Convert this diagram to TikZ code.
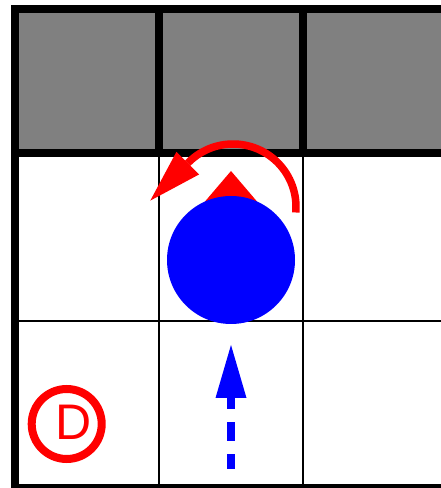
\documentclass[tikz,border=0pt]{standalone}
\usepackage{fontspec}
\setmainfont{Liberation Sans}
\usetikzlibrary{arrows.meta}

\begin{document}
\begin{tikzpicture}[
  x=1pt, y=1pt,
  blocked/.style   = {fill=gray},
  gridthin/.style  = {line width=2pt, black},
  gridthick/.style = {line width=8pt, black},
  robot/.style     = {circle, fill=blue, minimum size=128pt, inner sep=0pt},
  turn/.style      = {red, line width=7.5pt,
                      -{Triangle[length=53pt, width=32pt, line width=0pt]}},
  move/.style      = {blue, line width=8pt, dash pattern=on 19pt off 13pt,
                      dash phase=4pt,
                      -{Triangle[length=53pt, width=31pt, line width=0pt]}},
  dock/.style      = {circle, draw=red, line width=8pt, minimum size=70pt,
                      inner sep=0pt},
]
\useasboundingbox (0,0) rectangle (440,488);

%% ── Blocked top row ─────────────────────────────────────────────────────────
\fill[blocked] (15,335) rectangle (448,479);

%% ── Grid lines ──────────────────────────────────────────────────────────────
\draw[gridthin] (159,0) -- (159,335) (303,0) -- (303,335) (15,167) -- (448,167);
\draw[gridthick] (448,479) -- (15,479) -- (15,0) -- (448,0);
\draw[gridthick] (15,335) -- (448,335)
  (159,335) -- (159,479) (303,335) -- (303,479);

%% ── Robot and heading ───────────────────────────────────────────────────────
\fill[red] (202,283) -- (231,317) -- (260,283) -- cycle;
\node[robot] (bot) at (231,228) {};

%% ── Turn arrow ──────────────────────────────────────────────────────────────
\coordinate (pivot) at (233,281);
\draw[turn] (pivot) ++(-5:63pt) arc[start angle=-5, end angle=135, radius=63pt]
  -- ++(225:54pt);

%% ── Move arrow ──────────────────────────────────────────────────────────────
\coordinate (tail) at (231,19);
\coordinate (head) at (231,143);
\draw[move] (tail) -- (head);

%% ── Dock marker ─────────────────────────────────────────────────────────────
\node[dock] (dockring) at (66.7,64) {};
\node[text=red, font=\fontsize{50}{50}\selectfont, inner sep=0pt]
  (docklabel) at (73.5,65.5) {D};

\end{tikzpicture}
\end{document}
